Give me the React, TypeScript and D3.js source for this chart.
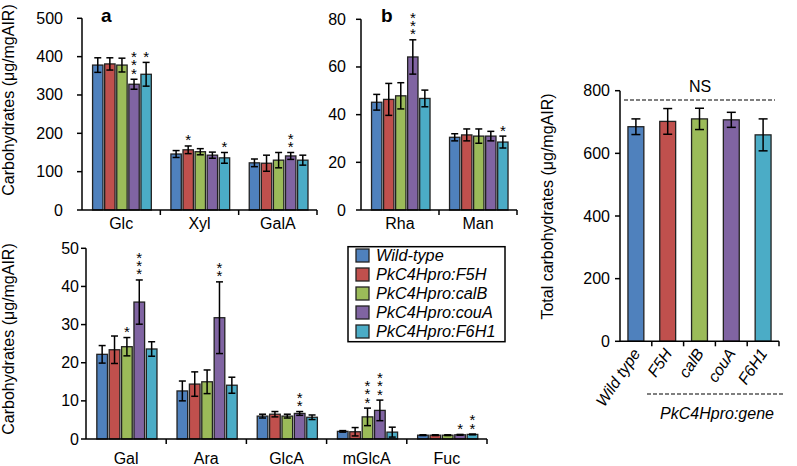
import React from 'react';
import * as d3 from 'd3';

const groups = ['Wild-type', 'PkC4Hpro:F5H', 'PkC4Hpro:calB', 'PkC4Hpro:couA', 'PkC4Hpro:F6H1'];
const colors = ['#4F81BD', '#C0504D', '#9BBB59', '#8064A2', '#4BACC6'];

const aCats = ['Glc', 'Xyl', 'GalA'];
const aMeans = [[378, 381, 378, 328, 354], [146, 157, 152, 143, 136], [123, 122, 130, 141, 130]];
const aErrs = [[19, 16, 18, 13, 31], [9, 10, 8, 8, 14], [10, 21, 20, 9, 13]];
const aStars = [[0, 0, 0, 3, 1], [0, 1, 0, 0, 1], [0, 0, 0, 2, 0]];
const aTicks = [0, 100, 200, 300, 400, 500];

const bCats = ['Rha', 'Man'];
const bMeans = [[45.2, 46.4, 47.9, 64.2, 46.8], [30.5, 31.5, 31, 31, 28.5]];
const bErrs = [[3.3, 6.7, 5.5, 7.2, 3.5], [1.5, 2.5, 3, 2, 2.5]];
const bStars = [[0, 0, 0, 3, 0], [0, 0, 0, 0, 1]];
const bTicks = [0, 20, 40, 60, 80];

const cCats = ['Gal', 'Ara', 'GlcA', 'mGlcA', 'Fuc'];
const cMeans = [[22.2, 23.4, 24.2, 35.9, 23.6], [12.6, 14.4, 15.0, 31.8, 14.1], [6.0, 6.5, 6.0, 6.7, 5.7], [2.0, 1.9, 5.8, 7.5, 1.8], [1.0, 1.0, 1.0, 1.1, 1.2]];
const cErrs = [[2.3, 3.6, 2.4, 5.8, 1.9], [2.6, 3.2, 3.1, 9.4, 2.1], [0.5, 0.7, 0.5, 0.5, 0.6], [0.2, 1.1, 2.3, 2.7, 1.3], [0.1, 0.1, 0.1, 0.1, 0.1]];
const cStars = [[0, 0, 1, 3, 0], [0, 0, 0, 2, 0], [0, 0, 0, 2, 0], [0, 0, 3, 3, 0], [0, 0, 0, 1, 2]];
const cTicks = [0, 10, 20, 30, 40, 50];

const totalLabels = ['Wild type', 'F5H', 'calB', 'couA', 'F6H1'];
const totalMeans = [685, 702, 710, 707, 659];
const totalErrs = [25, 41, 34, 24, 51];
const totalTicks = [0, 200, 400, 600, 800];

const FONT = 'Liberation Sans, Arial, Helvetica, sans-serif';
const STROKE = '#222';

function ErrorBar({ x, yLo, yHi, cap }: any) {
  return (
    <g stroke="#000" strokeWidth={1.5}>
      <line x1={x} x2={x} y1={yLo} y2={yHi} />
      <line x1={x - cap / 2} x2={x + cap / 2} y1={yHi} y2={yHi} />
      <line x1={x - cap / 2} x2={x + cap / 2} y1={yLo} y2={yLo} />
    </g>
  );
}

function Stars({ n, cx, top }: any) {
  if (!n) return null;
  return (
    <text x={cx} y={top - 9 + 8.5} textAnchor="middle" fontSize={15} fill="#000">
      {d3.range(n).map((k) => (
        <tspan key={k} x={cx} dy={k === 0 ? 0 : -8.3}>*</tspan>
      ))}
    </text>
  );
}

function Panel({ cats, means, errs, stars, ticks, x0, x1, y0, y1, yMax, labelGap, catY }: any) {
  const y = d3.scaleLinear().domain([0, yMax]).range([y0, y1]);
  const xo = d3.scaleBand().domain(cats).range([x0, x1]);
  const bw = xo.bandwidth();
  const xi = d3.scaleBand().domain(groups).range([bw * 0.135, bw * 0.885]).paddingInner(0.14);
  const w = xi.bandwidth();
  const boundaries = cats.map((c: string) => (xo(c) as number)).slice(1).concat([x1]);
  return (
    <g fontFamily={FONT}>
      {cats.map((c: string, ci: number) => (
        <g key={c}>
          {groups.map((g, gi) => {
            const m = means[ci][gi];
            const e = errs[ci][gi];
            const bx = (xo(c) as number) + (xi(g) as number);
            const cx = bx + w / 2;
            const top = y(m + e);
            return (
              <g key={g}>
                <rect x={bx} y={y(m)} width={w} height={y0 - y(m)} fill={colors[gi]} stroke={STROKE} strokeWidth={1.3} />
                <ErrorBar x={cx} yLo={y(m - e)} yHi={top} cap={7} />
                <Stars n={stars[ci][gi]} cx={cx} top={top} />
              </g>
            );
          })}
          <text x={(xo(c) as number) + bw / 2} y={catY} textAnchor="middle" fontSize={16}>{c}</text>
        </g>
      ))}
      <line x1={x0} x2={x0} y1={y1} y2={y0} stroke="#000" strokeWidth={1.5} />
      <line x1={x0} x2={x1} y1={y0} y2={y0} stroke="#000" strokeWidth={1.5} />
      {boundaries.map((bx: number, i: number) => (
        <line key={i} x1={bx} x2={bx} y1={y0} y2={y0 + 5} stroke="#000" strokeWidth={1.5} />
      ))}
      {ticks.map((t: number) => (
        <g key={t}>
          <line x1={x0 - 5} x2={x0} y1={y(t)} y2={y(t)} stroke="#000" strokeWidth={1.5} />
          <text x={x0 - labelGap} y={y(t) + 5.5} textAnchor="end" fontSize={16}>{t}</text>
        </g>
      ))}
    </g>
  );
}

function TotalPanel() {
  const x0 = 620, x1 = 779, y0 = 341.3, y1 = 90.7;
  const y = d3.scaleLinear().domain([0, 800]).range([y0, y1]);
  const x = d3.scaleBand().domain(totalLabels).range([x0, x1]).paddingInner(0.5).paddingOuter(0.25);
  const step = (x1 - x0) / totalLabels.length;
  const bounds = d3.range(1, totalLabels.length + 1).map((i) => x0 + i * step);
  return (
    <g fontFamily={FONT}>
      {totalLabels.map((l, i) => {
        const bx = x(l) as number;
        const cx = bx + x.bandwidth() / 2;
        const m = totalMeans[i], e = totalErrs[i];
        return (
          <g key={l}>
            <rect x={bx} y={y(m)} width={x.bandwidth()} height={y0 - y(m)} fill={colors[i]} stroke={STROKE} strokeWidth={1.3} />
            <ErrorBar x={cx} yLo={y(m - e)} yHi={y(m + e)} cap={9} />
            <text transform={`translate(${cx + 5},${y0 + 12}) rotate(-56)`} textAnchor="end" fontSize={16} fontStyle="italic">{l}</text>
          </g>
        );
      })}
      <line x1={x0} x2={x0} y1={y1} y2={y0} stroke="#000" strokeWidth={1.5} />
      <line x1={x0} x2={x1} y1={y0} y2={y0} stroke="#000" strokeWidth={1.5} />
      {bounds.map((bx, i) => (
        <line key={i} x1={bx} x2={bx} y1={y0} y2={y0 + 5} stroke="#000" strokeWidth={1.5} />
      ))}
      {totalTicks.map((t) => (
        <g key={t}>
          <line x1={x0 - 5} x2={x0} y1={y(t)} y2={y(t)} stroke="#000" strokeWidth={1.5} />
          <text x={x0 - 10} y={y(t) + 5.5} textAnchor="end" fontSize={16}>{t}</text>
        </g>
      ))}
      <text x={700} y={92} textAnchor="middle" fontSize={16}>NS</text>
      <line x1={624} x2={775} y1={100} y2={100} stroke="#000" strokeWidth={1.2} strokeDasharray="4,2" />
      <line x1={647} x2={785} y1={394} y2={394} stroke="#000" strokeWidth={1.2} strokeDasharray="4,2" />
      <text x={717} y={419} textAnchor="middle" fontSize={16} fontStyle="italic">PkC4Hpro:gene</text>
      <text transform="translate(553,206.5) rotate(-90)" textAnchor="middle" fontSize={16}>Total carbohydrates (μg/mgAIR)</text>
    </g>
  );
}

function Legend() {
  const lx = 348, ly = 246.7;
  return (
    <g fontFamily={FONT}>
      <rect x={lx} y={ly} width={157} height={95} fill="#fff" stroke="#000" strokeWidth={1.5} />
      {groups.map((g, i) => (
        <g key={g}>
          <rect x={356} y={249 + i * 19} width={13} height={13} fill={colors[i]} stroke={STROKE} strokeWidth={1.3} />
          <text x={376} y={261 + i * 19} fontSize={16.3} fontStyle="italic">{g}</text>
        </g>
      ))}
    </g>
  );
}

export default function App() {
  return (
    <svg width={797} height={466} style={{ position: 'absolute', left: 0, top: 0, background: '#fff' }}>
      <rect x={0} y={0} width={797} height={466} fill="#fff" />
      <Panel cats={aCats} means={aMeans} errs={aErrs} stars={aStars} ticks={aTicks} x0={82} x1={317} y0={210} y1={18.3} yMax={500} labelGap={19} catY={229} />
      <Panel cats={bCats} means={bMeans} errs={bErrs} stars={bStars} ticks={bTicks} x0={361} x1={517} y0={210} y1={19.3} yMax={80} labelGap={15} catY={229} />
      <Panel cats={cCats} means={cMeans} errs={cErrs} stars={cStars} ticks={cTicks} x0={86} x1={487} y0={439} y1={248.3} yMax={50} labelGap={7} catY={463.5} />
      <Legend />
      <TotalPanel />
      <g fontFamily={FONT}>
        <text x={101} y={22} fontSize={19} fontWeight="bold">a</text>
        <text x={381} y={22} fontSize={19} fontWeight="bold">b</text>
        <text transform="translate(14,100) rotate(-90)" textAnchor="middle" fontSize={16}>Carbohydrates (μg/mgAIR)</text>
        <text transform="translate(14,339) rotate(-90)" textAnchor="middle" fontSize={16}>Carbohydrates (μg/mgAIR)</text>
      </g>
    </svg>
  );
}
